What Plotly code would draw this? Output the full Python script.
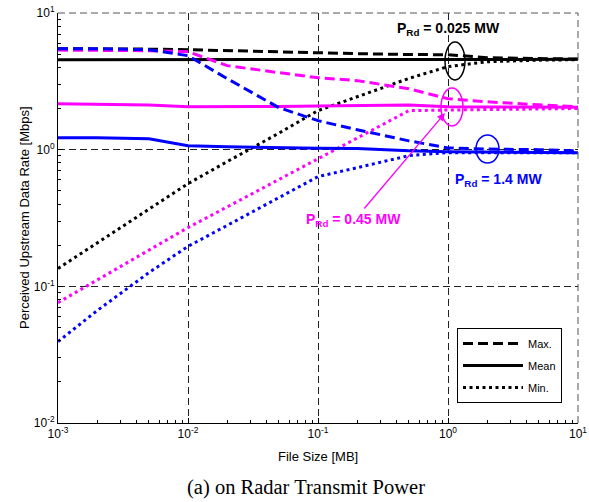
import plotly.graph_objects as go

# ---------------- data ----------------
file_size_mb = [1e-3, 2e-3, 5e-3, 1e-2, 2e-2, 5e-2, 0.1, 0.2, 0.5, 1, 2, 5, 10]

# P_Rd = 0.025 MW (black)
black_max = [5.48, 5.48, 5.44, 5.39, 5.30, 5.21, 5.12, 5.04, 4.97, 4.95, 4.71, 4.63, 4.60]
black_mean = [4.55, 4.55, 4.55, 4.55, 4.55, 4.55, 4.55, 4.55, 4.55, 4.56, 4.57, 4.58, 4.58]
black_min = [0.135, 0.207, 0.367, 0.564, 0.817, 1.32, 1.93, 2.44, 3.32, 4.05, 4.40, 4.52, 4.55]

# P_Rd = 0.45 MW (magenta)
mag_max = [5.35, 5.35, 5.30, 5.21, 4.12, 3.66, 3.36, 3.20, 2.79, 2.36, 2.24, 2.13, 2.06]
mag_mean = [2.17, 2.16, 2.12, 2.06, 2.06, 2.07, 2.09, 2.10, 2.12, 2.06, 2.05, 2.04, 2.04]
mag_min = [0.076, 0.111, 0.184, 0.269, 0.381, 0.607, 0.86, 1.22, 1.93, 1.95, 1.97, 1.99, 2.00]

# P_Rd = 1.4 MW (blue)
blue_max = [5.48, 5.48, 5.39, 4.87, 3.31, 2.03, 1.63, 1.40, 1.16, 1.03, 1.01, 1.00, 0.98]
blue_mean = [1.22, 1.22, 1.20, 1.07, 1.05, 1.03, 1.025, 1.02, 0.98, 0.967, 0.96, 0.95, 0.95]
blue_min = [0.0394, 0.0664, 0.126, 0.196, 0.279, 0.446, 0.635, 0.738, 0.904, 0.951, 0.95, 0.95, 0.95]

x_tick_vals = [1e-3, 1e-2, 1e-1, 1, 10]
x_tick_text = ["10<sup>-3</sup>", "10<sup>-2</sup>", "10<sup>-1</sup>", "10<sup>0</sup>", "10<sup>1</sup>"]
y_tick_vals = [1e-2, 1e-1, 1, 10]
y_tick_text = ["10<sup>-2</sup>", "10<sup>-1</sup>", "10<sup>0</sup>", "10<sup>1</sup>"]

legend_names = ["Max.", "Mean", "Min."]
series_labels = ["P<sub>Rd</sub> = 0.025 MW", "P<sub>Rd</sub> = 0.45 MW", "P<sub>Rd</sub> = 1.4 MW"]

# ---------------- styles ----------------
BLACK, MAG, BLUE = "#000000", "#FF00FF", "#0000FF"
DASH = "10px,5px"
DOT = "3px,3.5px"
LW = 3
FONT = "Liberation Sans, Arial, sans-serif"

# plot area in pixels
W, H = 589, 502
L, R, T, B = 58, 578, 13, 423


def px(x):
    return (x - L) / (R - L)


def py(y):
    return (B - y) / (B - T)


fig = go.Figure()

groups = [
    (BLACK, black_max, black_mean, black_min),
    (MAG, mag_max, mag_mean, mag_min),
    (BLUE, blue_max, blue_mean, blue_min),
]
for color, ymax, ymean, ymin in groups:
    fig.add_trace(go.Scatter(x=file_size_mb, y=ymean, mode="lines", showlegend=False,
                             line=dict(color=color, width=LW)))
    fig.add_trace(go.Scatter(x=file_size_mb, y=ymin, mode="lines", showlegend=False,
                             line=dict(color=color, width=LW, dash=DOT)))
    fig.add_trace(go.Scatter(x=file_size_mb, y=ymax, mode="lines", showlegend=False,
                             line=dict(color=color, width=LW, dash=DASH)))

# legend entries (black samples)
for name, dash in zip(legend_names, [DASH, "solid", DOT]):
    fig.add_trace(go.Scatter(x=[None], y=[None], mode="lines", name=name, legendgroup=name,
                             line=dict(color=BLACK, width=LW, dash=dash)))

minor_x = [k * 10 ** e for e in range(-3, 1) for k in range(2, 10)]
minor_y = [k * 10 ** e for e in range(-2, 1) for k in range(2, 10)]

common_axis = dict(
    type="log", showline=True, linecolor="black", linewidth=1, mirror=False,
    ticks="inside", ticklen=5, tickcolor="black", automargin=False,
    showgrid=True, gridcolor="#222222", gridwidth=1, griddash="7px,4px",
    zeroline=False, tickfont=dict(family=FONT, size=12, color="black"),
)
fig.update_xaxes(range=[-3, 1], tickvals=x_tick_vals, ticktext=x_tick_text,
                 minor=dict(tickvals=minor_x, ticks="inside", ticklen=3, tickcolor="black", showgrid=False),
                 **common_axis)
fig.update_yaxes(range=[-2, 1], tickvals=y_tick_vals, ticktext=y_tick_text,
                 minor=dict(tickvals=minor_y, ticks="inside", ticklen=3, tickcolor="black", showgrid=False),
                 **common_axis)

shapes = [
    # top and right box edges (dashed)
    dict(type="line", xref="paper", yref="paper", x0=0, x1=1, y0=1, y1=1,
         line=dict(color="#555555", width=1, dash="7px,4px")),
    dict(type="line", xref="paper", yref="paper", x0=1, x1=1, y0=0, y1=1,
         line=dict(color="#555555", width=1, dash="7px,4px")),
    # ellipses marking the curve groups
    dict(type="circle", xref="paper", yref="paper", x0=px(445), x1=px(465), y0=py(80), y1=py(42),
         line=dict(color=BLACK, width=1.5)),
    dict(type="circle", xref="paper", yref="paper", x0=px(441), x1=px(463), y0=py(126), y1=py(88),
         line=dict(color=MAG, width=1.5)),
    dict(type="circle", xref="paper", yref="paper", x0=px(476), x1=px(499), y0=py(163), y1=py(135),
         line=dict(color=BLUE, width=1.5)),
]


def label(text, x, y, size, color="black", family=FONT, angle=0):
    return dict(text=text, xref="paper", yref="paper", x=px(x), y=py(y),
                xanchor="center", yanchor="middle", textangle=angle,
                showarrow=False, font=dict(family=family, size=size, color=color))


annotations = [
    label("<b>" + series_labels[0] + "</b>", 448, 29, 14, BLACK),
    label("<b>" + series_labels[1] + "</b>", 353, 220, 14, MAG),
    label("<b>" + series_labels[2] + "</b>", 498, 180, 14, BLUE),
    # arrow pointing at magenta ellipse
    dict(text="", xref="paper", yref="paper", x=px(445), y=py(113), ax=363 - 445, ay=210 - 113,
         showarrow=True, arrowhead=2, arrowsize=1.2, arrowwidth=1.3, arrowcolor=MAG),
    # axis titles
    label("File Size [MB]", 318, 456, 13),
    label("Perceived Upstream Data Rate [Mbps]", 24, 218, 13, angle=-90),
    # caption
    label("(a) on Radar Transmit Power", 306, 488, 20.5, family="Liberation Serif, Times New Roman, serif"),
]

fig.update_layout(
    width=W, height=H,
    margin=dict(l=L, r=W - R, t=T, b=H - B, autoexpand=False),
    paper_bgcolor="white", plot_bgcolor="white",
    shapes=shapes, annotations=annotations,
    legend=dict(x=px(457), y=py(328), xanchor="left", yanchor="top",
                bgcolor="white", bordercolor="black", borderwidth=1,
                itemwidth=60, tracegroupgap=3, traceorder="grouped",
                font=dict(family=FONT, size=11, color="black")),
)

fig.write_html("out.html")
